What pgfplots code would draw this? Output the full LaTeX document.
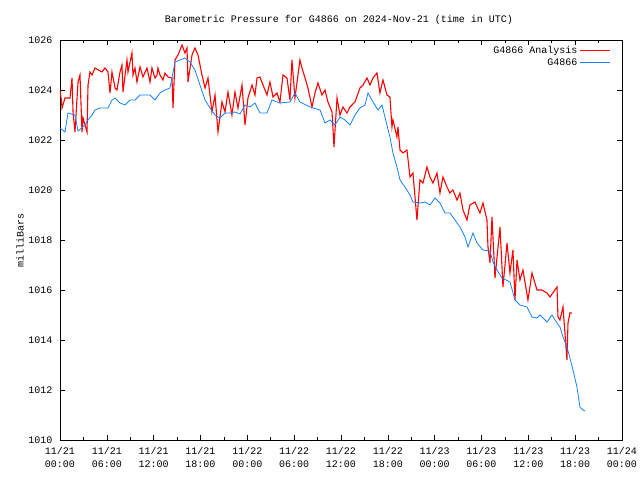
\documentclass[border=0pt]{standalone}
\usepackage{fontspec}
\setmainfont{Liberation Mono}
\usepackage{pgfplots}
\pgfplotsset{compat=1.18}
\definecolor{gred}{RGB}{255,0,0}
\definecolor{gblue}{RGB}{20,130,255}
\begin{document}
\begin{tikzpicture}[font=\fontsize{10}{12}\selectfont]
\useasboundingbox (-60pt,-40pt) rectangle (580pt,440pt);
\begin{axis}[
  scale only axis, width=562pt, height=400pt,
  at={(0pt,0pt)}, anchor=south west,
  xmin=0, xmax=72, ymin=1010, ymax=1026,
  xtick={0,6,...,72}, minor xtick={3,9,...,69},
  xticklabels={{11/21\\00:00},{11/21\\06:00},{11/21\\12:00},{11/21\\18:00},{11/22\\00:00},{11/22\\06:00},{11/22\\12:00},{11/22\\18:00},{11/23\\00:00},{11/23\\06:00},{11/23\\12:00},{11/23\\18:00},{11/24\\00:00}},
  xticklabel style={align=center, font=\fontsize{10}{13}\selectfont, yshift=-4pt},
  ytick={1010,1012,...,1026},
  yticklabel style={/pgf/number format/1000 sep={}, xshift=-4pt},
  /pgf/number format/assume math mode=true,
  tick align=inside, major tick length=5pt, minor tick length=3pt,
  tick style={black, line width=0.6pt},
  axis line style={line width=0.8pt},
  legend style={draw=none, fill=none, at={(0.985,0.996)}, anchor=north east,
    row sep=0pt, font=\fontsize{10}{12}\selectfont},
  legend cell align=right, legend plot pos=right,
  legend image code/.code={\draw[line width=1pt] (0pt,0pt) -- (30pt,0pt);},
]
\addplot[gred, line width=1.1pt] coordinates {
(0,1024.0)(0.2,1023.52)(0.26,1023.28)(0.64,1023.68)(1.28,1023.68)(1.54,1024.48)(1.67,1023.12)(1.92,1022.32)(2.31,1024.32)(2.56,1024.6)(2.82,1022.32)(2.95,1022.88)(3.46,1022.32)(3.59,1024.2)(3.84,1024.72)(4.10,1024.6)(4.48,1024.88)(5.38,1024.72)(5.76,1024.88)(6.15,1024.72)(6.41,1023.88)(6.66,1024.72)(7.05,1024.08)(7.30,1024.0)(7.69,1024.72)(7.94,1025.0)(8.07,1023.92)(8.58,1025.2)(8.71,1024.72)(9.22,1025.48)(9.35,1024.6)(9.61,1024.88)(9.86,1024.32)(10.25,1024.92)(10.63,1024.52)(11.14,1024.88)(11.53,1024.32)(11.78,1024.88)(12.17,1024.48)(12.43,1024.6)(12.55,1024.88)(12.81,1024.6)(13.19,1024.4)(13.45,1024.68)(13.84,1024.52)(14.35,1024.48)(14.48,1023.28)(14.73,1025.2)(15.12,1025.4)(15.63,1025.8)(16.01,1025.48)(16.27,1025.68)(16.40,1024.32)(16.91,1025.4)(17.29,1025.68)(17.68,1025.4)(18.19,1024.6)(18.58,1024.08)(18.96,1024.48)(19.47,1023.12)(19.86,1023.8)(20.24,1022.32)(20.75,1023.52)(21.14,1023.12)(21.52,1023.92)(22.03,1023.0)(22.42,1023.92)(22.80,1023.28)(23.32,1024.2)(23.70,1022.6)(24.08,1023.68)(24.60,1024.2)(24.98,1023.8)(25.24,1024.48)(25.62,1024.52)(26.01,1024.2)(26.52,1023.8)(26.90,1024.32)(27.29,1023.72)(27.80,1023.88)(28.18,1023.52)(28.57,1024.6)(29.08,1024.48)(29.46,1023.6)(29.72,1025.2)(30.10,1023.68)(30.74,1025.2)(31.00,1024.88)(31.39,1024.48)(31.77,1024.08)(32.28,1023.32)(32.67,1023.88)(33.05,1024.28)(33.56,1023.8)(33.95,1024.0)(34.33,1023.52)(34.85,1023.12)(35.10,1021.72)(35.49,1023.68)(35.87,1023.0)(36.25,1023.32)(36.77,1023.08)(37.15,1023.32)(37.79,1023.52)(38.43,1024.08)(38.82,1024.2)(39.33,1024.48)(39.71,1024.2)(40.10,1024.48)(40.61,1024.68)(40.99,1023.88)(41.38,1024.4)(41.89,1023.8)(42.27,1023.72)(42.53,1022.52)(42.66,1022.8)(43.17,1022.12)(43.30,1022.52)(43.56,1021.6)(43.94,1021.48)(44.45,1021.6)(44.84,1020.52)(45.22,1020.68)(45.73,1018.8)(46.12,1020.4)(46.50,1020.28)(47.01,1020.92)(47.40,1020.52)(47.78,1020.28)(48.30,1020.68)(48.68,1019.88)(49.06,1020.52)(49.58,1020.12)(49.96,1019.88)(50.34,1020.0)(50.86,1019.6)(51.24,1019.88)(51.63,1019.2)(52.14,1018.8)(52.52,1019.4)(53.16,1019.52)(53.80,1019.08)(54.19,1019.48)(54.70,1018.8)(54.83,1017.72)(55.09,1017.08)(55.34,1018.92)(55.73,1016.48)(56.37,1018.52)(56.75,1016.12)(57.27,1017.88)(57.65,1016.68)(58.03,1017.6)(58.29,1015.6)(58.55,1017.2)(58.93,1016.4)(59.31,1016.8)(59.95,1015.6)(60.47,1016.68)(61.11,1016.0)(61.75,1016.0)(62.39,1015.88)(62.77,1015.72)(63.67,1016.12)(63.80,1014.92)(64.05,1014.8)(64.44,1015.32)(64.95,1013.2)(65.08,1014.68)(65.33,1015.08)(65.59,1015.08)
};
\addlegendentry{G4866 Analysis}
\addplot[gblue, line width=0.8pt] coordinates {
(0,1022.48)(0.64,1022.32)(1.02,1023.08)(1.92,1023.0)(2.31,1022.36)(3.20,1022.6)(3.59,1022.8)(4.10,1023.0)(4.48,1023.2)(5.12,1023.28)(6.15,1023.28)(6.66,1023.6)(7.05,1023.68)(7.69,1023.48)(8.33,1023.4)(8.97,1023.6)(9.61,1023.6)(10.25,1023.8)(11.53,1023.8)(12.17,1023.6)(12.81,1023.88)(13.45,1024.0)(14.09,1024.08)(14.73,1025.12)(15.37,1025.2)(16.01,1025.28)(16.65,1025.12)(17.29,1024.8)(17.93,1024.2)(18.58,1023.6)(19.22,1023.28)(19.86,1023.0)(20.50,1022.88)(21.14,1023.08)(21.78,1023.08)(22.42,1023.12)(23.06,1023.04)(23.70,1023.4)(24.34,1023.32)(24.98,1023.48)(25.62,1023.08)(26.52,1023.08)(27.16,1023.6)(28.18,1023.48)(29.46,1023.52)(30.10,1023.88)(30.74,1023.52)(32.03,1023.32)(33.31,1023.2)(33.95,1022.68)(34.59,1022.8)(35.23,1022.6)(35.87,1022.92)(36.51,1022.8)(37.15,1022.6)(37.79,1023.0)(38.43,1023.28)(39.07,1023.4)(39.46,1023.88)(40.10,1023.52)(40.74,1023.2)(41.25,1023.4)(41.63,1022.92)(42.27,1022.12)(42.66,1021.48)(43.17,1020.92)(43.56,1020.4)(44.20,1020.12)(44.84,1019.8)(45.22,1019.52)(46.12,1019.48)(46.76,1019.52)(47.40,1019.4)(48.04,1019.68)(48.68,1019.48)(49.32,1019.08)(49.96,1019.08)(50.60,1018.8)(51.24,1018.52)(51.88,1018.12)(52.27,1017.72)(52.91,1018.28)(53.42,1017.88)(54.19,1017.6)(55.09,1017.56)(55.47,1017.12)(55.98,1016.8)(56.62,1016.48)(57.65,1016.32)(58.29,1015.6)(58.93,1015.4)(59.83,1015.32)(60.47,1014.92)(61.11,1014.88)(61.49,1015.0)(62.39,1014.72)(63.03,1015.0)(63.67,1014.68)(64.05,1014.52)(64.44,1014.12)(64.95,1013.72)(65.33,1013.28)(65.72,1012.8)(66.23,1012.12)(66.61,1011.32)(67.00,1011.2)(67.26,1011.16)
};
\addlegendentry{G4866}
\end{axis}
\node at (279pt,420pt) {Barometric Pressure for G4866 on 2024-Nov-21 (time in UTC)};
\node[rotate=90] at (-40pt,200pt) {milliBars};
\end{tikzpicture}
\end{document}
